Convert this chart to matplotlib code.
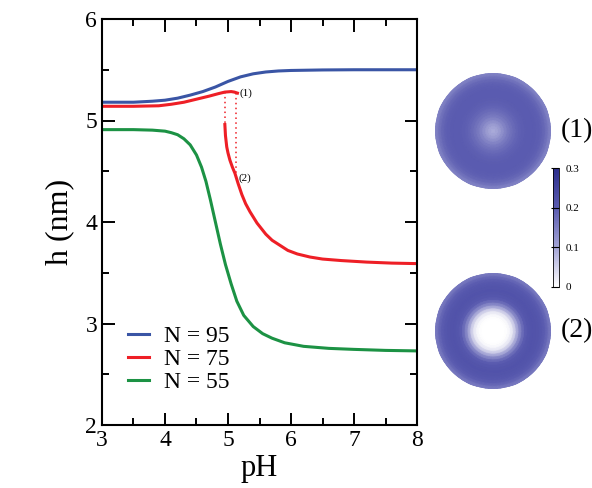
import numpy as np
import matplotlib
matplotlib.use("Agg")
import matplotlib.pyplot as plt
from matplotlib.colors import LinearSegmentedColormap
from matplotlib.ticker import MultipleLocator

plt.rcParams["font.family"] = ["Liberation Serif", "DejaVu Serif"]

# ----------------------------
# Data
# ----------------------------
ph_95 = [3.0, 3.5, 3.8, 4.0, 4.2, 4.4, 4.6, 4.8, 5.0, 5.2, 5.4, 5.6, 5.8, 6.0, 6.5, 7.0, 8.0]
h_95 = [5.18, 5.18, 5.19, 5.20, 5.22, 5.25, 5.285, 5.33, 5.385, 5.43, 5.46, 5.478, 5.488, 5.493,
        5.498, 5.50, 5.50]

ph_75_up = [3.0, 3.5, 3.9, 4.1, 4.3, 4.5, 4.7, 4.85, 4.95, 5.05, 5.1, 5.15]
h_75_up = [5.14, 5.14, 5.145, 5.16, 5.18, 5.21, 5.24, 5.265, 5.28, 5.285, 5.28, 5.27]

ph_75_low = [4.95, 4.96, 4.98, 5.0, 5.03, 5.07, 5.11, 5.16, 5.22, 5.28, 5.35, 5.46, 5.6, 5.7, 5.8,
             5.95, 6.1, 6.3, 6.5, 6.8, 7.2, 7.6, 8.0]
h_75_low = [4.96, 4.85, 4.74, 4.68, 4.61, 4.54, 4.48, 4.38, 4.27, 4.18, 4.10, 3.99, 3.88, 3.82, 3.78,
            3.72, 3.685, 3.655, 3.635, 3.62, 3.605, 3.595, 3.59]

ph_55 = [3.0, 3.5, 3.8, 4.0, 4.1, 4.2, 4.3, 4.4, 4.5, 4.58, 4.65, 4.72, 4.8, 4.88, 4.96, 5.05, 5.14,
         5.25, 5.4, 5.55, 5.7, 5.9, 6.2, 6.6, 7.0, 7.5, 8.0]
h_55 = [4.91, 4.91, 4.905, 4.895, 4.88, 4.86, 4.82, 4.76, 4.66, 4.54, 4.40, 4.22, 4.00, 3.78, 3.58,
        3.39, 3.22, 3.08, 2.97, 2.90, 2.855, 2.81, 2.775, 2.755, 2.745, 2.735, 2.73]

# jumps between the two N = 75 branches (pH, h_top, h_bottom)
jump_ph = [4.95, 5.13]
jump_top = [5.28, 5.275]
jump_bot = [4.96, 4.46]

labels = ["N = 95", "N = 75", "N = 55"]
colors = ["#3a55a5", "#ee1f26", "#1c9244"]

# radial profiles of the two disks (centre -> rim)
ring_r = [0, .05, .1, .15, .2, .25, .3, .35, .4, .45, .5, .55, .6, .65, .7, .75, .8, .85, .9, .95, 1.0]
ring_1 = [0.09, 0.095, 0.105, 0.12, 0.137, 0.152, 0.165, 0.175, 0.183, 0.19, 0.195, 0.198, 0.2,
          0.2, 0.2, 0.198, 0.195, 0.188, 0.177, 0.16, 0.14]
ring_2 = [0.0, 0.0, 0.0, 0.0, 0.0, 0.003, 0.012, 0.035, 0.075, 0.125, 0.165, 0.195, 0.208, 0.214,
          0.216, 0.215, 0.212, 0.205, 0.194, 0.175, 0.15]
cbar_ticks = [0, 0.1, 0.2, 0.3]

# ----------------------------
# Figure
# ----------------------------
W, H = 592, 488
fig = plt.figure(figsize=(W / 100, H / 100), dpi=100)


def px_box(x0, y0, x1, y1):
    return [x0 / W, 1 - y1 / H, (x1 - x0) / W, (y1 - y0) / H]


ax = fig.add_axes(px_box(102, 19, 417, 425))
lw = 2.2
ax.plot(ph_95, h_95, color=colors[0], lw=lw, label=labels[0])
ax.plot(ph_75_up, h_75_up, color=colors[1], lw=lw, label=labels[1])
ax.plot(ph_75_low, h_75_low, color=colors[1], lw=lw)
ax.plot(ph_55, h_55, color=colors[2], lw=lw, label=labels[2])
for x, y0, y1 in zip(jump_ph, jump_top, jump_bot):
    ax.plot([x, x], [y0, y1], color=colors[1], lw=1.1, ls=(0, (1, 2.2)))

ax.text(5.19, 5.27, "(1)", fontsize=8, va="center", ha="left")
ax.text(5.16, 4.43, "(2)", fontsize=8, va="center", ha="left")

ax.set_xlim(3, 8)
ax.set_ylim(2, 6)
ax.xaxis.set_major_locator(MultipleLocator(1))
ax.xaxis.set_minor_locator(MultipleLocator(0.5))
ax.yaxis.set_major_locator(MultipleLocator(1))
ax.yaxis.set_minor_locator(MultipleLocator(0.5))
ax.tick_params(which="both", direction="in", top=True, right=True, width=1.4, labelsize=17)
ax.tick_params(which="major", length=9)
ax.tick_params(which="minor", length=5)
for s in ax.spines.values():
    s.set_linewidth(1.5)
ax.set_xlabel("pH", fontsize=22, labelpad=2)
ax.set_ylabel("h (nm)", fontsize=23, labelpad=8)

leg = ax.legend(loc="lower left", bbox_to_anchor=(0.053, 0.056), frameon=False, fontsize=17,
                handlelength=0.9, handletextpad=0.6, labelspacing=0.05, borderaxespad=0)

# ----------------------------
# Disks + colorbar
# ----------------------------
cmap = LinearSegmentedColormap.from_list(
    "disk", ["#ffffff", "#a3a4d6", "#5a5bb0", "#2b2d8c"])
theta = np.linspace(0, 2 * np.pi, 241)
mesh = None
for ring, (cy, tag) in zip([ring_1, ring_2], [(131, "(1)"), (331, "(2)")]):
    pax = fig.add_axes(px_box(435, cy - 58, 551, cy + 58), projection="polar")
    C = np.tile(np.asarray(ring)[:, None], (1, len(theta)))
    mesh = pax.pcolormesh(theta, ring_r, C, cmap=cmap, vmin=0, vmax=0.3, shading="gouraud")
    pax.set_ylim(0, 1)
    pax.axis("off")
    fig.text(561 / W, 1 - cy / H, tag, fontsize=20, va="center", ha="left")

cax = fig.add_axes(px_box(553, 168, 559, 287))
cb = fig.colorbar(mesh, cax=cax, ticks=cbar_ticks)
cb.ax.set_yticklabels(["0", "0.1", "0.2", "0.3"])
cb.ax.tick_params(direction="in", length=6, width=0.8, labelsize=8, pad=5)
cb.outline.set_linewidth(0.6)

fig.savefig("out.png", dpi=100)
